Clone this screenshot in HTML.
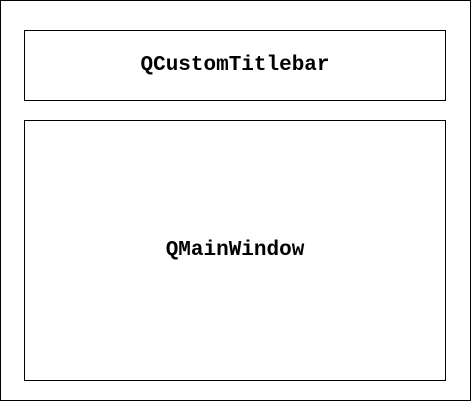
<!DOCTYPE html>
<html><head><style>
html,body{margin:0;padding:0;background:#fff;}
body{width:471px;height:401px;position:relative;overflow:hidden;}
.b{position:absolute;box-sizing:border-box;border:1px solid #000;display:flex;align-items:center;justify-content:center;font-family:"Liberation Mono",monospace;font-weight:bold;font-size:21px;color:#000;}
</style></head><body>
<div class="b" style="left:0;top:0;width:471px;height:401px;"></div>
<div class="b" style="left:24px;top:30px;width:422px;height:71px;">QCustomTitlebar</div>
<div class="b" style="left:24px;top:120px;width:422px;height:261px;">QMainWindow</div>
</body></html>
